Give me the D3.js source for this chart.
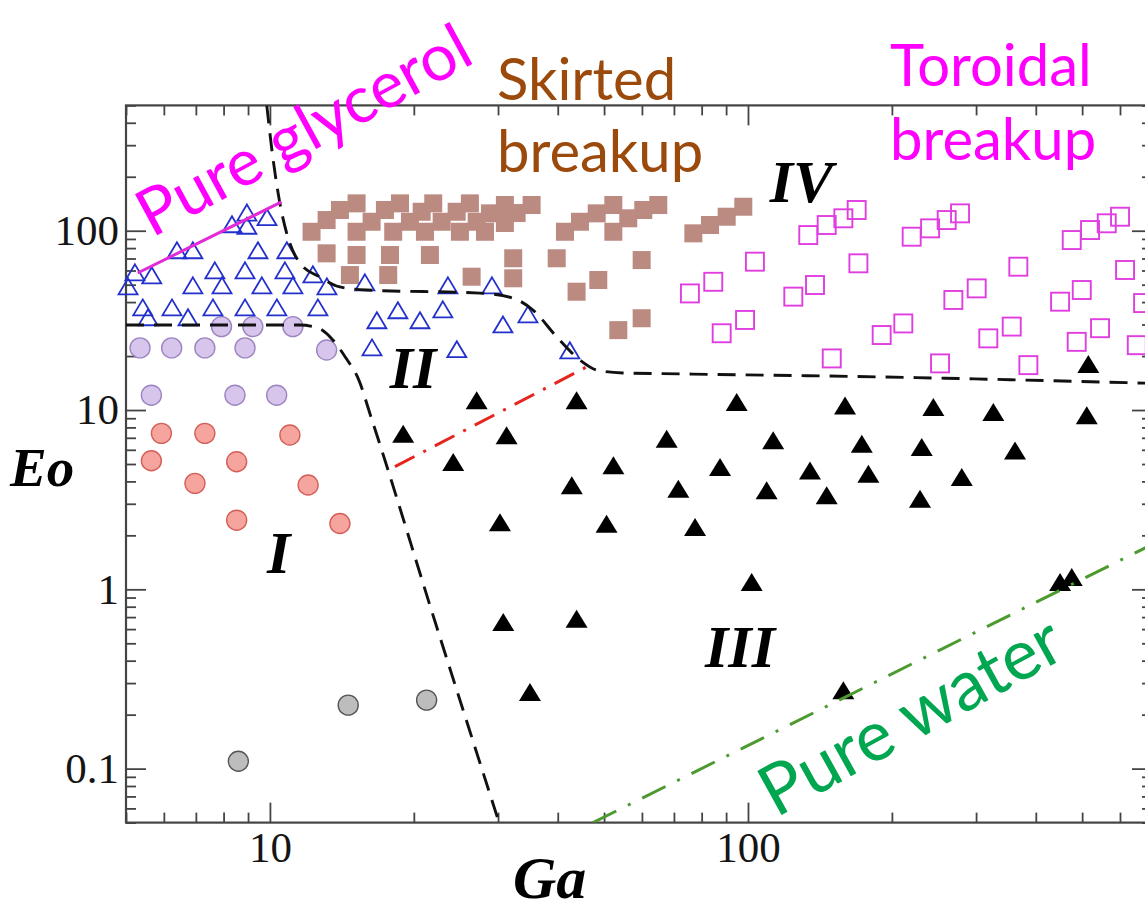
<!DOCTYPE html>
<html>
<head>
<meta charset="utf-8">
<script src="https://cdn.jsdelivr.net/npm/d3@7"></script>
<style>
  html, body { margin: 0; padding: 0; background: #fff; }
  svg { display: block; }
</style>
</head>
<body>
<svg id="chart" width="1145" height="913"></svg>
<script>
// ---- data (Ga, Eo) ----
const regimeIPurple = [[5.35,22.2],[6.23,22.2],[7.31,22.2],[8.87,22.2],[13.14,21.6],
  [7.92,29.2],[9.21,29.2],[11.17,29.2],[5.65,12.1],[8.45,12.1],[10.33,12.1]];
const regimeIRed = [[5.93,7.41],[7.31,7.41],[11.01,7.26],[5.65,5.21],[8.52,5.15],
  [6.97,3.90],[12.02,3.82],[8.52,2.43],[14.01,2.33]];
const regimeIGrey = [[8.59,0.110],[14.58,0.226],[21.27,0.241]];
const regimeII = [[5.22,56.6],[5.66,54.5],[5.05,47.3],[8.33,105],[8.95,122],[8.95,103],[9.86,115],
  [6.39,75.2],[6.90,75.2],[9.44,75.2],[10.85,75.2],
  [7.67,58.1],[8.87,58.1],[10.75,58.1],[12.3,55.2],
  [6.90,47.9],[7.94,47.9],[9.62,47.9],[11.17,47.9],[13.16,47.3],[15.8,49.8],[23.57,47.9],[29.14,47.9],
  [5.42,36.1],[6.24,36.1],[7.60,36.1],[8.87,36.1],[10.34,36.1],[12.6,36.1],
  [5.56,31.8],[6.74,31.8],
  [16.74,30.6],[18.52,34.8],[20.6,30.6],[23.0,35.2],[30.72,29.0],[34.65,33.0],
  [16.35,21.6],[24.6,21.1],[42.4,20.8]];
const regimeIII = [[19.0,7.10],[24.18,4.93],[27.07,10.9],[43.8,10.9],[94.7,10.67],[159.6,10.2],
  [31.27,6.95],[67.6,6.66],[112.9,6.52],[173.0,6.24],
  [52.3,4.73],[87.4,4.63],[134.8,4.43],[178.6,4.25],
  [42.8,3.66],[71.5,3.50],[109.4,3.43],[146.1,3.22],
  [30.28,2.28],[50.6,2.23],[77.5,2.14],
  [101.8,1.057],[30.77,0.632],[43.8,0.66],[34.99,0.257],[158.3,0.263],
  [244.2,10.0],[326,9.38],[511.3,8.99],[230.9,5.98],[361.9,5.73],[280,4.07],[229,3.08],
  [449.6,1.057],[475.6,1.127],[515.1,17.4]];
const skirtedBreakup = [
  [12.22,98.7],[13.14,114.7],[14.01,130.5],[15.18,142.1],
  [15.18,98.7],[16.32,112.2],[17.40,130.5],[18.71,142.1],
  [18.11,98.7],[19.63,112.2],[20.77,127.6],[21.96,142.1],
  [21.1,98.7],[22.87,112.2],[24.58,127.6],[26.2,142.1],
  [24.97,98.7],[27.07,112.2],[28.86,125],[31.01,139.1],
  [28.18,98.7],[31.01,110.4],[32.81,125.5],[35.27,139.1],
  [41.42,98.7],[44.52,112.2],[48.26,125],[52.28,139.1],
  [52.28,98.7],[56.18,117.3],[60.39,130.5],[64.92,139.1],
  [76.86,96.7],[83.27,107.6],[90.25,119.7],[97.77,136.1],
  [13.14,74.8],[15.18,73.2],[17.83,73.2],[21.61,73.2],[14.7,56.6],[17.68,56.6],[26.42,55.4],
  [32.28,70.2],[39.8,70.2],[59.92,68.6],[32.28,54.3],[43.8,45.7],[48.63,53.1],[53.55,27.9],[59.92,32.5]];
const toroidalBreakup = [[75.6,44.7],[84.6,51.9],[103.4,67.2],[88.1,26.8],[98.6,31.8],[124.4,42.9],
  [138.1,49.8],[170.2,65.8],[149.7,19.4],[133.7,94.6],[146.1,107.6],[158.3,117.3],[168.8,130.5],
  [220,92.6],[240.4,103.1],[260.4,114.7],[277.7,125],[367.7,63.0],[268.9,41.1],[300.9,47.7],
  [190.4,26.2],[211.3,30.4],[252.2,18.2],[318.2,25.1],[356.2,29.2],[385.9,17.8],
  [475.6,88.7],[519.4,100.9],[562.9,110],[600.1,119.7],[449.6,40.2],[499.1,46.7],[614.8,60.4],
  [487.1,24.0],[545.0,28.6],[650.5,23.0],[670.6,39.5]];

// regime boundaries and reference lines
const boundaryUpper = [[9.85,500],[10.14,257.6],[10.49,142.7],[10.84,97.1],[11.55,66.1],[12.72,55.2],
  [14.01,48.6],[15.93,46.7],[27.5,44.9],[32.23,42.1],[35.5,36.1],[39.85,25.5],[44.52,19.0],
  [48.33,16.7],[54.77,16.1],[72.07,15.9],[188.9,15.3],[693,14.1]];
const boundaryLower = [[5,29.8],[11.55,29.8],[12.6,28.7],[13.54,24.6],[14.42,19.5],[15.28,15.1],
  [16.35,8.79],[22.13,0.666],[30.13,0.0503]];
const glycerolLine = [[5.29,58.1],[10.58,145]];
const transitionLine = [[18.26,4.83],[45.98,17.4]];
const waterLine = [[47.4,0.05],[693,1.755]];

const xMajorTicks = [10, 100];
const yMajorTicks = [0.1, 1, 10, 100];

// ---- scales ----
const svg = d3.select("#chart");
const x = d3.scaleLog().domain([5, 700]).range([126, 1152]);
const y = d3.scaleLog().domain([0.05, 500]).range([822.6, 105.4]);
const [x0, x1] = x.range(), [y0, y1] = y.range();

svg.append("rect").attr("width", 1145).attr("height", 913).attr("fill", "#fff");

svg.append("defs").append("clipPath").attr("id", "plot")
  .append("rect").attr("x", x0).attr("y", y1).attr("width", x1 - x0).attr("height", y0 - y1);

// ---- axes: frame with inward ticks on all four sides ----
const serif = "'Liberation Serif', 'Times New Roman', serif";
const isMajor = v => Math.abs(Math.log10(v) - Math.round(Math.log10(v))) < 1e-9;
const xMinor = x.ticks().filter(v => !isMajor(v));
const yMinor = y.ticks().filter(v => !isMajor(v));

function styleAxis(g) {
  g.select(".domain").remove();
  g.selectAll(".tick line").attr("stroke", "#444").attr("stroke-width", 1.8);
  g.selectAll(".tick text").attr("font-family", serif).attr("font-size", 43).attr("fill", "#151515");
}
const axes = [
  [d3.axisBottom(x), `translate(0,${y0})`, xMinor, xMajorTicks, 9],
  [d3.axisTop(x), `translate(0,${y1})`, xMinor, xMajorTicks, 9],
  [d3.axisLeft(y), `translate(${x0},0)`, yMinor, yMajorTicks, 7],
  [d3.axisRight(y), `translate(${x1},0)`, yMinor, yMajorTicks, 7]
];
axes.forEach(([ax, tr, minor, major, pad], i) => {
  svg.append("g").attr("transform", tr)
    .call(ax.tickValues(minor).tickSize(-10).tickFormat(""))
    .call(styleAxis);
  const labelled = i === 0 || i === 2;
  svg.append("g").attr("transform", tr)
    .call(ax.tickValues(major).tickSize(-20).tickPadding(pad)
      .tickFormat(labelled ? (d => String(d)) : ""))
    .call(styleAxis);
});
svg.append("rect").attr("x", x0).attr("y", y1).attr("width", x1 - x0).attr("height", y0 - y1)
  .attr("fill", "none").attr("stroke", "#444").attr("stroke-width", 2.2);

// axis titles
svg.append("text").attr("x", 10).attr("y", 486)
  .attr("font-family", serif).attr("font-size", 55).attr("font-weight", "bold").attr("font-style", "italic")
  .text("Eo");
svg.append("text").attr("x", 513).attr("y", 898)
  .attr("font-family", serif).attr("font-size", 60).attr("font-weight", "bold").attr("font-style", "italic")
  .text("Ga");

// ---- markers ----
const tri = (w, h) => `M0,${-2 * h / 3}L${w / 2},${h / 3}L${-w / 2},${h / 3}Z`;
const pos = d => `translate(${x(d[0])},${y(d[1])})`;

svg.append("g").selectAll("rect").data(skirtedBreakup).join("rect")
  .attr("x", d => x(d[0]) - 9).attr("y", d => y(d[1]) - 9)
  .attr("width", 18).attr("height", 18).attr("fill", "#bb8a81");

svg.append("g").selectAll("rect").data(toroidalBreakup).join("rect")
  .attr("x", d => x(d[0]) - 9).attr("y", d => y(d[1]) - 9)
  .attr("width", 18).attr("height", 18)
  .attr("fill", "none").attr("stroke", "#e03ee0").attr("stroke-width", 1.9);

const circles = (data, fill, stroke) => svg.append("g").selectAll("circle").data(data).join("circle")
  .attr("cx", d => x(d[0])).attr("cy", d => y(d[1])).attr("r", 10)
  .attr("fill", fill).attr("stroke", stroke).attr("stroke-width", 1.4);
circles(regimeIPurple, "#d8c5ec", "#9c84c2");
circles(regimeIRed, "#f6a59e", "#d45f58");
circles(regimeIGrey, "#bdbdbd", "#555");

svg.append("g").selectAll("path").data(regimeII).join("path")
  .attr("transform", pos).attr("d", tri(19, 16))
  .attr("fill", "none").attr("stroke", "#2330cc").attr("stroke-width", 1.8);

svg.append("g").selectAll("path").data(regimeIII).join("path")
  .attr("transform", pos).attr("d", tri(22, 18)).attr("fill", "#000");

// ---- boundary and reference lines ----
const lines = svg.append("g").attr("clip-path", "url(#plot)").attr("fill", "none");
const smooth = d3.line().x(d => x(d[0])).y(d => y(d[1])).curve(d3.curveMonotoneX);
const straight = d3.line().x(d => x(d[0])).y(d => y(d[1]));

[boundaryUpper, boundaryLower].forEach(b => lines.append("path").attr("d", smooth(b))
  .attr("stroke", "#111").attr("stroke-width", 2.9).attr("stroke-dasharray", "18,10"));
lines.append("path").attr("d", straight(glycerolLine))
  .attr("stroke", "#e22ad8").attr("stroke-width", 3);
lines.append("path").attr("d", straight(transitionLine))
  .attr("stroke", "#e5261f").attr("stroke-width", 3).attr("stroke-dasharray", "22,10,3,10");
lines.append("path").attr("d", straight(waterLine))
  .attr("stroke", "#4c9a30").attr("stroke-width", 3).attr("stroke-dasharray", "26,13,3,13");

// ---- regime numerals ----
const numeral = (t, gx, ey) => svg.append("text").attr("x", x(gx)).attr("y", y(ey))
  .attr("font-family", serif).attr("font-size", 60).attr("font-weight", "bold").attr("font-style", "italic")
  .attr("fill", "#000").text(t);
numeral("I", 9.86, 1.23);
numeral("II", 17.8, 13.3);
numeral("III", 81.3, 0.369);
numeral("IV", 111, 144);

// ---- annotations ----
const sans = "Lato, 'Open Sans', sans-serif";
const note = (lines, x0, yb, color, lh) => {
  const t = svg.append("text").attr("font-family", sans).attr("font-size", 58).attr("fill", color);
  lines.forEach((s, i) => t.append("tspan").attr("x", x0).attr("y", yb + i * lh).text(s));
};
note(["Skirted", "breakup"], 497, 100, "#9b4a0c", 72);
note(["Toroidal", "breakup"], 890, 86, "#ff00ff", 74);

svg.append("text").attr("transform", "translate(152,238) rotate(-28.5)")
  .attr("font-family", sans).attr("font-size", 65).attr("fill", "#ff00ff").text("Pure glycerol");
svg.append("text").attr("transform", "translate(776,818) rotate(-29)")
  .attr("font-family", sans).attr("font-size", 70).attr("fill", "#00a650").text("Pure water");
</script>
</body>
</html>
